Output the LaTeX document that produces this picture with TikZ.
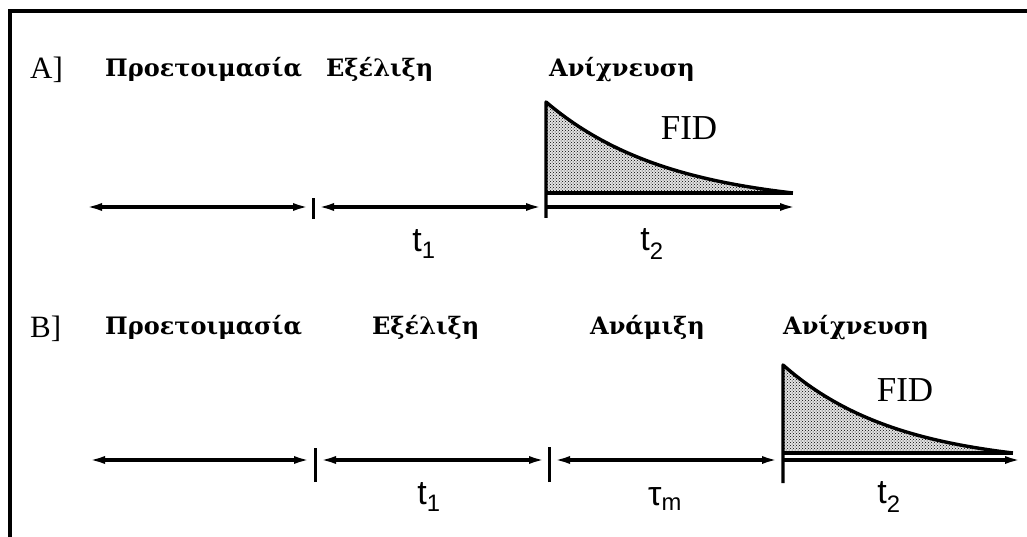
\documentclass[tikz,border=0pt]{standalone}
\usepackage{fontspec}
\setmainfont{Liberation Serif}
\newfontfamily\greekfont{DejaVu Serif}
\newfontfamily\axisfont{Liberation Sans}
\usetikzlibrary{positioning,arrows.meta,patterns}

\begin{document}
\begin{tikzpicture}[
  x=1pt,y=-1pt,
  rowlabel/.style={anchor=base west,inner sep=0pt,font=\fontsize{31}{31}\selectfont},
  phase/.style={anchor=base west,inner sep=0pt,font=\greekfont\bfseries\fontsize{24}{24}\selectfont},
  timelabel/.style={inner sep=0pt,font=\axisfont\fontsize{34}{34}\selectfont},
  fidlabel/.style={inner sep=0pt,font=\fontsize{35}{35}\selectfont},
  timeline/.style={line width=3.2pt,{Latex[length=17pt,width=8pt]}-{Latex[length=17pt,width=8pt]}},
  detline/.style={line width=3.2pt,-{Latex[length=17pt,width=8pt]}},
  tickmark/.style={line width=3pt},
  fidarea/.style={pattern=crosshatch dots,pattern color=black},
  fidedge/.style={line width=3.4pt,line join=round}
]
  \useasboundingbox (0,0) rectangle (1027,537);
  % frame (only top and left edges are visible)
  \draw[line width=3.5pt] (10,537) -- (10,11) -- (1027,11);

  % A] two-dimensional scheme
  \node[rowlabel] (labA) at (30,79) {A]};
  \node[phase] (prepA) at (105,77) {Προετοιμασία};
  \node[phase] (evolA) at (326,77) {Εξέλιξη};
  \node[phase] (detA) at (549,77) {Ανίχνευση};

  \coordinate (a0) at (85,207);
  \coordinate (a1) at (313,207);
  \coordinate (a2) at (546,207);
  \coordinate (a3) at (797,207);
  \draw[timeline] (a0) -- ([xshift=-3pt]a1);
  \draw[timeline] ([xshift=4pt]a1) -- ([xshift=-3pt]a2);
  \draw[tickmark] ([yshift=-12pt]a1) -- ([yshift=9pt]a1);

  \fill[gray!22] (546,193) -- plot[domain=0:1,samples=50]
    ({546+247*\x},{193-91*(exp(-2*\x)-exp(-2))/(1-exp(-2))}) -- cycle;
  \fill[fidarea] (546,193) -- plot[domain=0:1,samples=50]
    ({546+247*\x},{193-91*(exp(-2*\x)-exp(-2))/(1-exp(-2))}) -- cycle;
  \draw[fidedge] (546,218) -- (546,102) -- plot[domain=0:1,samples=50]
    ({546+247*\x},{193-91*(exp(-2*\x)-exp(-2))/(1-exp(-2))});
  \draw[fidedge] (546,193) -- (793,193);
  \draw[detline] (a2) -- (a3);

  \node[fidlabel] (fidA) at (689,128) {FID};
  \node[timelabel] (tA1) at (424,244) {t\textsubscript{1}};
  \node[timelabel] (tA2) at (652,244) {t\textsubscript{2}};

  % B] three-dimensional scheme
  \node[rowlabel] (labB) at (30,337) {B]};
  \node[phase] (prepB) at (105,334) {Προετοιμασία};
  \node[phase] (evolB) at (372,334) {Εξέλιξη};
  \node[phase] (mixB) at (590,334) {Ανάμιξη};
  \node[phase] (detB) at (783,334) {Ανίχνευση};

  \coordinate (b0) at (88,460);
  \coordinate (b1) at (315,460);
  \coordinate (b2) at (549,460);
  \coordinate (b3) at (783,460);
  \coordinate (b4) at (1022,460);
  \draw[timeline] (b0) -- ([xshift=-4pt]b1);
  \draw[timeline] ([xshift=4pt]b1) -- ([xshift=-3pt]b2);
  \draw[timeline] ([xshift=4pt]b2) -- ([xshift=-4pt]b3);
  \draw[tickmark] ([yshift=-22pt]b1) -- ([yshift=12pt]b1);
  \draw[tickmark] ([yshift=-22pt]b2) -- ([yshift=13pt]b2);

  \fill[gray!22] (783,453) -- plot[domain=0:1,samples=50]
    ({783+230*\x},{453-88*(exp(-2*\x)-exp(-2))/(1-exp(-2))}) -- cycle;
  \fill[fidarea] (783,453) -- plot[domain=0:1,samples=50]
    ({783+230*\x},{453-88*(exp(-2*\x)-exp(-2))/(1-exp(-2))}) -- cycle;
  \draw[fidedge] (783,483) -- (783,365) -- plot[domain=0:1,samples=50]
    ({783+230*\x},{453-88*(exp(-2*\x)-exp(-2))/(1-exp(-2))});
  \draw[fidedge] (783,453) -- (1013,453);
  \draw[detline] (b3) -- (b4);

  \node[fidlabel] (fidB) at (905,390) {FID};
  \node[timelabel] (tB1) at (429,497) {t\textsubscript{1}};
  \node[timelabel] (tBm) at (665,499) {τ\textsubscript{m}};
  \node[timelabel] (tB2) at (889,497) {t\textsubscript{2}};
\end{tikzpicture}
\end{document}
